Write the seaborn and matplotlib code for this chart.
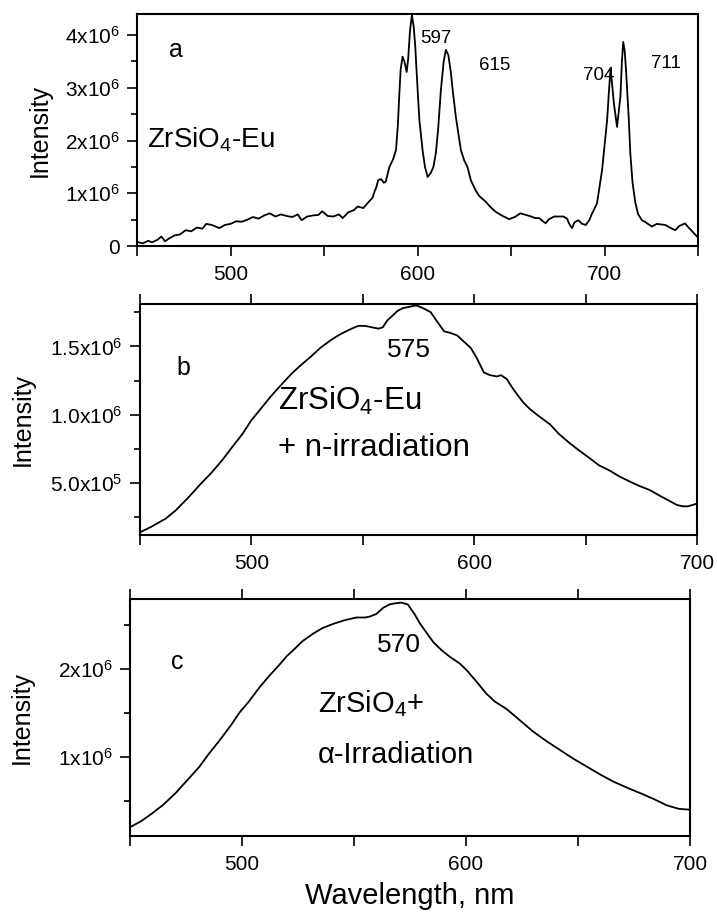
import numpy as np
import pandas as pd
import matplotlib
matplotlib.use("Agg")
import matplotlib.pyplot as plt
from matplotlib.ticker import FixedLocator
import seaborn as sns

# ---- spectra (intensity in units of 1e6) ----
wl_a = [450, 453, 456, 458, 461, 463, 465, 467, 470, 473, 476, 479, 482, 485, 487,
        490, 494, 497, 500, 503, 506, 509, 512, 515, 518, 521, 524, 527, 530, 533,
        536, 538, 541, 544, 547, 549, 552, 555, 558, 560, 563, 566, 568, 571, 574,
        576, 577, 578, 579, 580.5, 582, 583, 585, 587, 588.5, 589.5, 590.3, 591, 592,
        593, 594.2, 595, 596, 597, 598, 598.8, 600, 601, 602.7, 604, 605.4, 607,
        608.5, 609.8, 611, 612.5, 614, 615.2, 616.5, 617.8, 619, 620.5, 622, 623.2,
        625, 626.7, 628.5, 631, 633, 636.5, 639, 641.8, 645, 649, 652, 655, 657, 660,
        663, 665, 668.5, 670, 673, 678, 680, 681, 682.6, 684, 686, 688, 690, 692, 693,
        696, 698.7, 700, 701.4, 702.5, 703.2, 704, 705, 706.7, 708.5, 709.3, 710,
        710.8, 711.5, 713, 713.8, 715, 716.5, 718, 720, 722, 725.3, 728, 732.5, 735,
        737.8, 740, 743, 745, 747.6, 749.5, 750]
int_a = [0.08, 0.05, 0.10, 0.07, 0.12, 0.18, 0.09, 0.14, 0.20, 0.22, 0.30, 0.28, 0.35,
         0.33, 0.42, 0.40, 0.34, 0.40, 0.42, 0.47, 0.46, 0.50, 0.55, 0.52, 0.58, 0.62,
         0.56, 0.60, 0.57, 0.55, 0.60, 0.49, 0.56, 0.58, 0.59, 0.66, 0.57, 0.56, 0.60,
         0.53, 0.64, 0.68, 0.75, 0.72, 0.84, 0.92, 1.03, 1.12, 1.25, 1.27, 1.20, 1.22,
         1.50, 1.65, 1.82, 2.30, 2.90, 3.35, 3.59, 3.50, 3.30, 3.55, 4.09, 4.38, 4.15,
         3.78, 3.00, 2.39, 1.82, 1.50, 1.31, 1.38, 1.50, 1.76, 2.20, 2.96, 3.50, 3.72,
         3.62, 3.30, 2.90, 2.45, 2.10, 1.82, 1.62, 1.50, 1.25, 1.06, 0.95, 0.84, 0.74,
         0.65, 0.58, 0.51, 0.55, 0.62, 0.60, 0.57, 0.53, 0.53, 0.43, 0.50, 0.56, 0.56,
         0.52, 0.43, 0.34, 0.45, 0.49, 0.42, 0.40, 0.50, 0.59, 0.81, 1.44, 1.90, 2.39,
         3.00, 3.34, 3.10, 2.71, 2.26, 2.83, 3.50, 3.87, 3.70, 3.34, 2.40, 1.76, 1.20,
         0.82, 0.60, 0.49, 0.45, 0.37, 0.42, 0.40, 0.35, 0.30, 0.38, 0.43, 0.35, 0.25,
         0.18, 0.17]

wl_b = [450, 455, 461.5, 466, 472, 477, 482.3, 487, 491.2, 496, 500, 505, 509, 514, 518,
        522, 527, 531, 536, 540, 545, 548, 551, 554, 557, 559, 561, 563, 565.6, 568,
        571, 574, 577, 580.5, 583, 586.5, 589, 592.4, 595, 598.4, 601, 604.3, 607,
        610.3, 612, 614.7, 617, 619.2, 622, 625.1, 629, 634, 638, 643, 647, 652, 656,
        661, 665, 670, 674, 678.7, 683, 687.6, 691, 693.6, 696, 698, 700]
int_b = [0.14, 0.18, 0.24, 0.30, 0.40, 0.49, 0.58, 0.67, 0.76, 0.86, 0.96, 1.06, 1.14,
         1.23, 1.30, 1.36, 1.43, 1.49, 1.55, 1.59, 1.63, 1.65, 1.65, 1.64, 1.63, 1.64,
         1.69, 1.72, 1.76, 1.78, 1.79, 1.80, 1.78, 1.75, 1.69, 1.61, 1.60, 1.58, 1.54,
         1.49, 1.42, 1.31, 1.29, 1.28, 1.29, 1.26, 1.20, 1.15, 1.09, 1.04, 0.99, 0.93,
         0.86, 0.79, 0.74, 0.68, 0.63, 0.59, 0.55, 0.51, 0.48, 0.45, 0.41, 0.37, 0.34,
         0.33, 0.33, 0.34, 0.35]

wl_c = [450, 455, 460, 465, 470.4, 475, 481, 485, 490, 495, 499, 503, 508, 512, 517,
        520, 523, 527, 532, 536, 541, 546, 551, 555, 557, 560, 563, 566, 568, 571, 574,
        577, 579.5, 582, 585.4, 589, 592.9, 597, 600.3, 604, 609.2, 613, 618, 624, 630,
        636, 642, 648, 654, 660, 665.8, 672, 677.7, 684, 689.6, 695, 700]
int_c = [0.20, 0.27, 0.36, 0.46, 0.59, 0.72, 0.89, 1.03, 1.19, 1.36, 1.51, 1.63, 1.80,
         1.92, 2.06, 2.15, 2.22, 2.32, 2.41, 2.47, 2.52, 2.56, 2.59, 2.59, 2.60, 2.63,
         2.70, 2.74, 2.75, 2.76, 2.74, 2.63, 2.52, 2.43, 2.31, 2.22, 2.14, 2.07, 1.99,
         1.88, 1.72, 1.63, 1.55, 1.42, 1.29, 1.18, 1.08, 0.98, 0.89, 0.80, 0.72, 0.65,
         0.59, 0.52, 0.45, 0.41, 0.40]

# ---- axis tick labels ----
yticks_a = [0, 1e6, 2e6, 3e6, 4e6]
ylabels_a = ["0", "$\\mathregular{1x10^6}$", "$\\mathregular{2x10^6}$",
             "$\\mathregular{3x10^6}$", "$\\mathregular{4x10^6}$"]
yticks_b = [5e5, 1e6, 1.5e6]
ylabels_b = ["$\\mathregular{5.0x10^5}$", "$\\mathregular{1.0x10^6}$",
             "$\\mathregular{1.5x10^6}$"]
yticks_c = [1e6, 2e6]
ylabels_c = ["$\\mathregular{1x10^6}$", "$\\mathregular{2x10^6}$"]

sns.set_style("ticks")
plt.rcParams["font.family"] = ["Liberation Sans", "DejaVu Sans"]
plt.rcParams["mathtext.fontset"] = "custom"
plt.rcParams["mathtext.rm"] = "Liberation Sans"
plt.rcParams["mathtext.it"] = "Liberation Sans:italic"
plt.rcParams["mathtext.bf"] = "Liberation Sans:bold"
plt.rcParams["text.color"] = "black"
plt.rcParams["axes.labelcolor"] = "black"
plt.rcParams["xtick.color"] = "black"
plt.rcParams["ytick.color"] = "black"

fig = plt.figure(figsize=(7.17, 9.16), dpi=100)
ax_a = fig.add_axes([0.1911, 0.7314, 0.7824, 0.2533])
ax_b = fig.add_axes([0.1953, 0.4159, 0.7768, 0.2522])
ax_c = fig.add_axes([0.1813, 0.0873, 0.7810, 0.2587])

panels = [
    (ax_a, wl_a, int_a, (450, 750), (0, 4.4e6), yticks_a, ylabels_a,
     np.arange(0, 4.5e6, 0.5e6), False, -0.152),
    (ax_b, wl_b, int_b, (450, 700), (0.12e6, 1.81e6), yticks_b, ylabels_b,
     np.arange(0.25e6, 1.8e6, 0.25e6), True, -0.189),
    (ax_c, wl_c, int_c, (450, 700), (0.10e6, 2.80e6), yticks_c, ylabels_c,
     np.arange(0.5e6, 2.8e6, 0.5e6), True, -0.172),
]

for ax, wl, inten, xlim, ylim, yt, yl, yminor, top, lab_x in panels:
    df = pd.DataFrame({"Wavelength": wl, "Intensity": np.array(inten) * 1e6})
    sns.lineplot(data=df, x="Wavelength", y="Intensity", ax=ax, color="black",
                 linewidth=1.3, estimator=None, sort=False)
    ax.set_xlim(*xlim)
    ax.set_ylim(*ylim)
    ax.set_xticks([500, 600, 700])
    ax.set_xticklabels(["500", "600", "700"])
    ax.xaxis.set_minor_locator(FixedLocator([450, 550, 650, 750]))
    ax.set_yticks(yt)
    ax.set_yticklabels(yl)
    ax.yaxis.set_minor_locator(FixedLocator(yminor))
    ax.tick_params(axis="both", which="major", direction="out", length=7.5,
                   width=1.2, labelsize=15, colors="black")
    ax.tick_params(axis="x", which="major", pad=6)
    ax.tick_params(axis="y", which="major", pad=5)
    ax.tick_params(axis="x", which="minor", direction="out", length=7.5, width=1.2)
    ax.tick_params(axis="y", which="minor", direction="out", length=4, width=1.2)
    ax.tick_params(axis="x", which="both", top=top, bottom=True)
    ax.tick_params(axis="y", which="both", left=True, right=False)
    for s in ax.spines.values():
        s.set_visible(True)
        s.set_linewidth(1.5)
        s.set_color("black")
    ax.set_xlabel("")
    ax.set_ylabel("Intensity", fontsize=18)
    ax.yaxis.set_label_coords(lab_x, 0.5)

# ---- panel annotations ----
ax_a.text(470.8, 3.72e6, "a", fontsize=18, ha="center", va="center")
ax_a.text(455.5, 2.01e6, "ZrSiO$_\\mathregular{4}$-Eu", fontsize=20, ha="left", va="center")
for x, y, s in [(610, 3.94e6, "597"), (641.5, 3.43e6, "615"),
                (697, 3.24e6, "704"), (732.7, 3.47e6, "711")]:
    ax_a.text(x, y, s, fontsize=13.5, ha="center", va="center")

ax_b.text(469.6, 1.34e6, "b", fontsize=18, ha="center", va="center")
ax_b.text(570.5, 1.47e6, "575", fontsize=19, ha="center", va="center")
ax_b.text(512, 1.10e6, "ZrSiO$_\\mathregular{4}$-Eu", fontsize=22.5, ha="left", va="center")
ax_b.text(512, 0.76e6, "+ n-irradiation", fontsize=22.5, ha="left", va="center")

ax_c.text(471, 2.08e6, "c", fontsize=18, ha="center", va="center")
ax_c.text(570.3, 2.28e6, "570", fontsize=19, ha="center", va="center")
ax_c.text(534, 1.61e6, "ZrSiO$_\\mathregular{4}$+", fontsize=21, ha="left", va="center")
ax_c.text(534, 1.02e6, "α-Irradiation", fontsize=21, ha="left", va="center")

fig.text(0.572, 0.022, "Wavelength, nm", fontsize=21, ha="center", va="center")

fig.savefig("out.png", dpi=100)
